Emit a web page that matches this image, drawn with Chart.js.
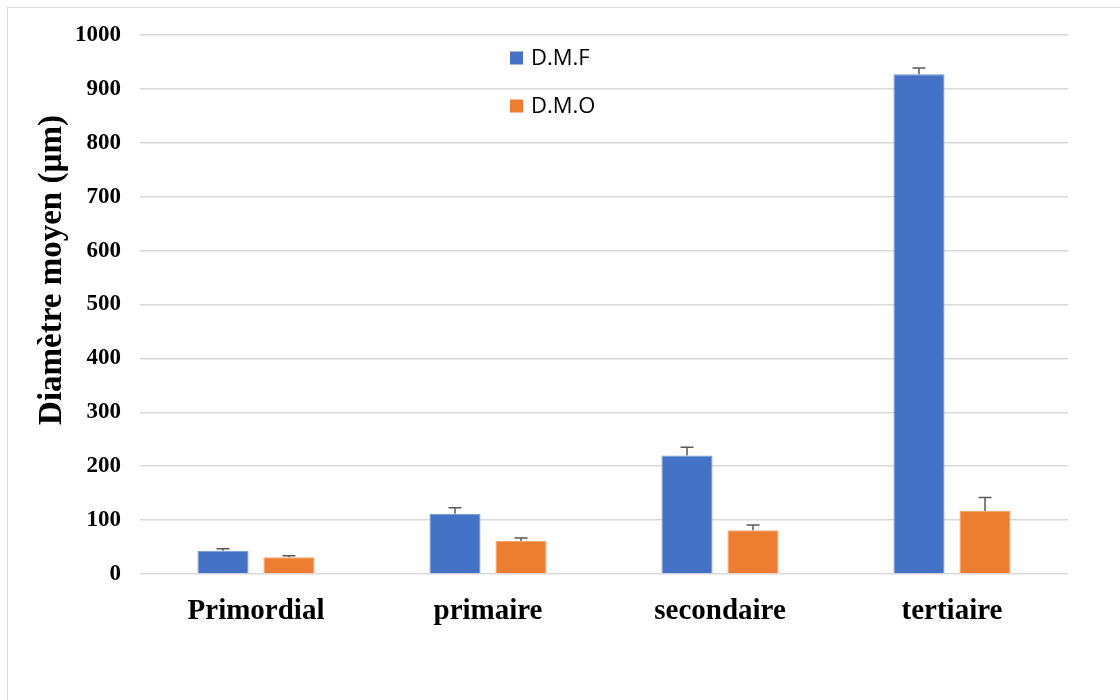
<!DOCTYPE html>
<html>
<head>
<meta charset="utf-8">
<script src="https://cdn.jsdelivr.net/npm/chart.js@4"></script>
<style>
  html, body { margin: 0; padding: 0; background: #fff; overflow: hidden; }
  #wrap { position: relative; width: 1120px; height: 700px; overflow: hidden; }
  #frame { position: absolute; left: 7px; top: 7px; width: 1200px; height: 800px; border: 1.5px solid #d9d9d9; box-sizing: border-box; }
  canvas { position: absolute; left: 0; top: 0; }
</style>
</head>
<body>
<div id="wrap">
  <div id="frame"></div>
  <canvas id="c" width="1120" height="700"></canvas>
</div>
<script>
const categories = ['Primordial', 'primaire', 'secondaire', 'tertiaire'];
const dmfValues = [43, 112, 220, 927];
const dmfErrors = [4, 11, 15, 12];
const dmoValues = [31, 61, 81, 117];
const dmoErrors = [3, 6, 10, 25];
const yTicks = [0, 100, 200, 300, 400, 500, 600, 700, 800, 900, 1000];
const yTitle = 'Diamètre moyen (µm)';

const serif = '"Times New Roman", "Liberation Serif", serif';

const errorBars = {
  id: 'errorBars',
  afterDatasetsDraw(chart) {
    const ctx = chart.ctx;
    const y = chart.scales.y;
    ctx.save();
    ctx.strokeStyle = '#595959';
    ctx.lineWidth = 1.5;
    chart.data.datasets.forEach((ds, di) => {
      const meta = chart.getDatasetMeta(di);
      meta.data.forEach((bar, i) => {
        const v = ds.data[i], e = ds.errors[i];
        const yt = y.getPixelForValue(v + e);
        const yb = y.getPixelForValue(v);
        ctx.beginPath();
        ctx.moveTo(bar.x, yb);
        ctx.lineTo(bar.x, yt);
        ctx.moveTo(bar.x - 6.5, yt);
        ctx.lineTo(bar.x + 6.5, yt);
        ctx.stroke();
      });
    });
    ctx.restore();
  }
};

const customText = {
  id: 'customText',
  afterDraw(chart) {
    const ctx = chart.ctx;
    ctx.save();
    const ys = [58, 106];
    chart.data.datasets.forEach((ds, i) => {
      ctx.fillStyle = ds.backgroundColor;
      ctx.fillRect(510, ys[i] - 6.5, 13, 13);
      ctx.fillStyle = '#000';
      ctx.font = '22px "Open Sans", sans-serif';
      ctx.textBaseline = 'middle';
      ctx.textAlign = 'left';
      ctx.fillText(ds.label, 531, ys[i] + 1);
    });
    // y-axis title
    ctx.translate(52, 270);
    ctx.rotate(-Math.PI / 2);
    ctx.font = 'bold 33px ' + serif;
    ctx.textAlign = 'center';
    ctx.textBaseline = 'middle';
    ctx.fillStyle = '#000';
    ctx.fillText(yTitle, 0, 0);
    ctx.restore();
  }
};

new Chart(document.getElementById('c'), {
  type: 'bar',
  data: {
    labels: categories,
    datasets: [
      { label: 'D.M.F', data: dmfValues, errors: dmfErrors, backgroundColor: '#4472C4', borderColor: '#6f95d6', borderWidth: 1,
        categoryPercentage: 0.569, barPercentage: 0.773 },
      { label: 'D.M.O', data: dmoValues, errors: dmoErrors, backgroundColor: '#ED7D31', borderColor: '#f3a572', borderWidth: 1,
        categoryPercentage: 0.569, barPercentage: 0.773 }
    ]
  },
  options: {
    responsive: false,
    animation: false,
    devicePixelRatio: 1,
    layout: { padding: { top: 35, right: 52, left: 0, bottom: 0 } },
    plugins: { legend: { display: false }, tooltip: { enabled: false } },
    scales: {
      x: {
        grid: { display: false, drawTicks: false },
        border: { display: false },
        ticks: { color: '#000', font: { family: serif, size: 29, weight: 'bold' }, padding: 20 },
        afterFit(s) { s.height = 126; }
      },
      y: {
        min: 0, max: 1000,
        afterBuildTicks(s) { s.ticks = yTicks.map(v => ({ value: v })); },
        grid: { color: '#d9d9d9', lineWidth: 1.5, drawTicks: false },
        border: { display: false },
        ticks: { color: '#000', font: { family: serif, size: 23, weight: 'bold' }, padding: 19,
                 callback: (v) => String(v) },
        afterFit(s) { s.width = 140; }
      }
    }
  },
  plugins: [errorBars, customText]
});
</script>
</body>
</html>
